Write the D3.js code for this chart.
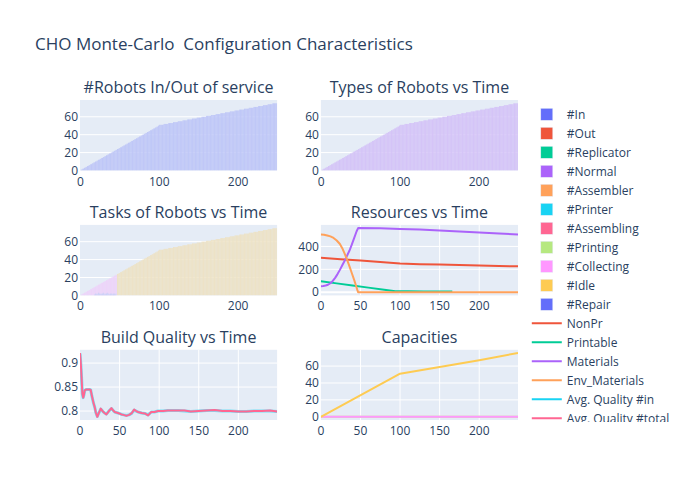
<!DOCTYPE html>
<html><head><meta charset="utf-8">
<script src="https://cdn.jsdelivr.net/npm/d3@7"></script>
<style>body{margin:0;background:#fff}svg{font-family:"Open Sans",verdana,arial,sans-serif}</style>
</head><body>
<script>
// ---------------- DATA ----------------
const chartTitle = "CHO Monte-Carlo  Configuration Characteristics";
const subplotTitles = ["#Robots In/Out of service","Types of Robots vs Time","Tasks of Robots vs Time","Resources vs Time","Build Quality vs Time","Capacities"];

// #In robots per time step t = 0..249
const robotsIn = [0,1,1,2,2,3,3,4,4,5,5,6,6,7,7,8,8,9,9,10,10,11,11,12,12,13,13,14,14,15,15,16,16,17,17,18,18,19,19,20,20,21,21,22,22,23,23,24,24,25,25,26,26,27,27,28,28,29,29,30,30,31,31,32,32,33,33,34,34,35,35,36,36,37,37,38,38,39,39,40,40,41,41,42,42,43,43,44,44,45,45,46,46,47,47,48,48,49,49,50,
51,51,51,51,51,51,52,52,52,52,52,52,53,53,53,53,53,53,54,54,54,54,54,54,55,55,55,55,55,55,56,56,56,56,56,56,57,57,57,57,57,57,58,58,58,58,58,58,59,59,59,59,59,59,60,60,60,60,60,60,61,61,61,61,61,61,62,62,62,62,62,62,63,63,63,63,63,63,64,64,64,64,64,64,65,65,65,65,65,65,66,66,66,66,66,66,67,67,67,67,67,67,68,68,68,68,68,68,69,69,69,69,69,69,70,70,70,70,70,70,71,71,71,71,71,71,72,72,72,72,72,72,73,73,73,73,73,73,74,74,74,74,74,74,75,75,75,75,75,75];
// #Normal robots (same counts as #In in the picture)
const robotsNormal = robotsIn;
// Tasks: #Collecting t=0..46, #Idle t=47..249, #Repair t=18..45
const collectingStart = 0;
const tasksCollecting = [0,1,1,2,2,3,3,4,4,5,5,6,6,7,7,8,8,9,9,10,10,11,11,12,12,13,13,14,14,15,15,16,16,17,17,18,18,19,19,20,20,21,21,22,22,23,23];
const idleStart = 47;
const tasksIdle = [24,24,25,25,26,26,27,27,28,28,29,29,30,30,31,31,32,32,33,33,34,34,35,35,36,36,37,37,38,38,39,39,40,40,41,41,42,42,43,43,44,44,45,45,46,46,47,47,48,48,49,49,50,
51,51,51,51,51,51,52,52,52,52,52,52,53,53,53,53,53,53,54,54,54,54,54,54,55,55,55,55,55,55,56,56,56,56,56,56,57,57,57,57,57,57,58,58,58,58,58,58,59,59,59,59,59,59,60,60,60,60,60,60,61,61,61,61,61,61,62,62,62,62,62,62,63,63,63,63,63,63,64,64,64,64,64,64,65,65,65,65,65,65,66,66,66,66,66,66,67,67,67,67,67,67,68,68,68,68,68,68,69,69,69,69,69,69,70,70,70,70,70,70,71,71,71,71,71,71,72,72,72,72,72,72,73,73,73,73,73,73,74,74,74,74,74,74,75,75,75,75,75,75];
const repairStart = 18;
const tasksRepair = [1,2,2,1,2,3,2,2,1,2,2,3,2,1,2,2,3,2,2,1,2,2,2,1,2,2,1,2];

// Resources [t, value]
const resNonPr = [[0,301],[25,288],[50,276],[75,263],[100,250],[125,245],[150,241],[175,237],[200,233],[225,229],[249,226]];
const resPrintable = [[0,96],[20,77],[40,58],[60,40],[80,21],[94,9],[110,8],[130,7],[150,6],[166,6]];
const resMaterials = [[0,52],[3,54],[6,58],[9,65],[12,78],[15,98],[18,125],[21,158],[24,195],[27,235],[30,275],[33,318],[36,362],[39,415],[42,472],[45,530],[47,560],[75,558],[100,553],[125,547],[150,540],[175,531],[200,522],[225,513],[249,505]];
const resEnvMaterials = [[0,504],[4,502],[8,496],[12,488],[16,474],[20,452],[24,421],[27,385],[30,337],[33,284],[36,228],[39,168],[42,108],[44,65],[46,20],[47,0],[100,0],[150,0],[200,0],[249,0]];

// Build quality [t, value]
const qualityTotal = [[0,0.921],[1,0.9],[2,0.87],[3,0.836],[4,0.828],[5,0.834],[6,0.843],[8,0.845],[10,0.845],[12,0.845],[13.5,0.844],[15,0.832],[17,0.817],[18.6,0.808],[20,0.797],[21.9,0.788],[23.6,0.795],[26.2,0.805],[29,0.799],[31,0.796],[33.3,0.793],[36,0.799],[39.7,0.806],[42,0.801],[43.9,0.798],[48,0.796],[52.3,0.793],[55,0.792],[58.6,0.79],[62,0.792],[65,0.795],[68.4,0.803],[71,0.8],[73.4,0.798],[78,0.796],[81.9,0.795],[86,0.791],[90,0.798],[94,0.798],[98.7,0.8],[105,0.8],[111,0.801],[124,0.801],[132,0.801],[140,0.799],[150,0.8],[160,0.801],[170,0.802],[180,0.8],[190,0.8],[200,0.799],[210,0.799],[220,0.8],[230,0.8],[240,0.801],[249,0.799]];
const qualityIn = [[0,0.92],[1,0.9],[2,0.869],[3,0.835],[4,0.828],[5,0.834],[6,0.843],[8,0.845],[10,0.845],[12,0.845],[13.5,0.844],[15,0.831],[17,0.817],[18.6,0.808],[20,0.797],[21.9,0.789],[23.6,0.795],[26.2,0.804],[29,0.799],[31,0.796],[33.3,0.794],[36,0.799],[39.7,0.805],[42,0.801],[43.9,0.798],[48,0.796],[52.3,0.793],[55,0.792],[58.6,0.791],[62,0.792],[65,0.795],[68.4,0.802],[71,0.8],[73.4,0.798],[78,0.796],[81.9,0.795],[86,0.792],[90,0.798],[94,0.798],[98.7,0.8],[105,0.8],[111,0.801],[124,0.801],[132,0.8],[140,0.799],[150,0.8],[160,0.801],[170,0.801],[180,0.8],[190,0.8],[200,0.799],[210,0.799],[220,0.8],[230,0.8],[240,0.8],[249,0.799]];

// Capacities [t, value]
const capGreen = [[0,0],[249,0]];
const capPink = [[0,0],[249,0]];
const capYellow = [[0,0],[100,51],[150,59],[200,67],[249,75.5]];

// Tick values
const ticksBarX = [0,100,200], ticksBarY = [0,20,40,60];
const ticksLineX = [0,50,100,150,200];
const ticksResY = [0,200,400];
const ticksQualY = [0.8,0.85,0.9];
const ticksCapY = [0,20,40,60];

const legendItems = [
  ["#In","bar","#636efa"],["#Out","bar","#EF553B"],["#Replicator","bar","#00cc96"],["#Normal","bar","#ab63fa"],
  ["#Assembler","bar","#FFA15A"],["#Printer","bar","#19d3f3"],["#Assembling","bar","#FF6692"],["#Printing","bar","#B6E880"],
  ["#Collecting","bar","#FF97FF"],["#Idle","bar","#FECB52"],["#Repair","bar","#636efa"],
  ["NonPr","line","#EF553B"],["Printable","line","#00cc96"],["Materials","line","#ab63fa"],["Env_Materials","line","#FFA15A"],
  ["Avg. Quality #in","line","#19d3f3"],["Avg. Quality #total","line","#FF6692"],
  ["Cap","line","#B6E880"],["Cap","line","#FF97FF"],["Cap","line","#FECB52"]
];

// ---------------- DRAW ----------------
const W = 700, H = 500, BG = "#E5ECF6", TXT = "#2a3f5f";
const svg = d3.select("body").append("svg").attr("width", W).attr("height", H);
svg.append("rect").attr("width", W).attr("height", H).attr("fill", "#fff");

const cols = [[80, 277.1], [320.9, 518]];
const rows = [[100, 170.5], [224.9, 295.4], [349.8, 420]];

function pad(ext) { const r = ext[1] - ext[0]; return [ext[0] - r * 0.05, ext[1] + r * 0.05]; }

function panel(ci, ri, xDom, yDom, xTicks, yTicks, title, xGrid, fmt) {
  const [x0, x1] = cols[ci], [y0, y1] = rows[ri];
  const x = d3.scaleLinear().domain(xDom).range([x0, x1]);
  const y = d3.scaleLinear().domain(yDom).range([y1, y0]);
  const g = svg.append("g");
  g.append("rect").attr("x", x0).attr("y", y0).attr("width", x1 - x0).attr("height", y1 - y0).attr("fill", BG);
  if (xGrid) g.selectAll(null).data(xTicks.filter(t => t !== 0)).join("line")
    .attr("x1", d => x(d)).attr("x2", d => x(d)).attr("y1", y0).attr("y2", y1)
    .attr("stroke", "#fff").attr("stroke-width", 1);
  g.selectAll(null).data(yTicks.filter(t => y(t) > y0 + 0.5 && y(t) < y1 - 0.5)).join("line")
    .attr("x1", x0).attr("x2", x1).attr("y1", d => y(d)).attr("y2", d => y(d))
    .attr("stroke", "#fff").attr("stroke-width", d => d === 0 ? 2 : 1);
  g.selectAll(null).data(xTicks).join("text").attr("x", d => x(d)).attr("y", y1 + 15)
    .attr("text-anchor", "middle").attr("font-size", 12).attr("fill", TXT).text(d => d);
  g.selectAll(null).data(yTicks).join("text").attr("x", x0 - 2).attr("y", d => y(d)).attr("dy", "0.35em")
    .attr("text-anchor", "end").attr("font-size", 12).attr("fill", TXT).text(d => fmt ? fmt(d) : d);
  svg.append("text").attr("x", (x0 + x1) / 2).attr("y", y0 - 7).attr("text-anchor", "middle")
    .attr("font-size", 16).attr("fill", TXT).text(title);
  const clip = "clip" + ci + ri;
  svg.append("clipPath").attr("id", clip).append("rect").attr("x", x0).attr("y", y0).attr("width", x1 - x0).attr("height", y1 - y0);
  const layer = svg.append("g").attr("clip-path", `url(#${clip})`);
  return { x, y, layer };
}

function bars(p, values, start, color, a) {
  const fill = d3.interpolateRgb(BG, color)(a || 0.3);
  p.layer.append("g").selectAll("rect").data(values.map((v, i) => ({ t: start + i, v }))).join("rect")
    .attr("x", d => p.x(d.t - 0.5)).attr("width", d => p.x(d.t + 0.5) - p.x(d.t - 0.5) + 0.15)
    .attr("y", d => p.y(d.v)).attr("height", d => p.y(0) - p.y(d.v)).attr("fill", fill);
}
function line(p, pts, color, w, op) {
  p.layer.append("path").datum(pts).attr("fill", "none").attr("stroke", color).attr("stroke-width", w || 2)
    .attr("stroke-opacity", op == null ? 1 : op).attr("stroke-linejoin", "round")
    .attr("d", d3.line().x(d => p.x(d[0])).y(d => p.y(d[1])));
}

const nT = robotsIn.length;
const barX = [-0.5, nT - 0.5];
const barY = [0, d3.max(robotsIn) * 1.05];

const p1 = panel(0, 0, barX, barY, ticksBarX, ticksBarY, subplotTitles[0], false);
bars(p1, robotsIn, 0, "#636efa");

const p2 = panel(1, 0, barX, barY, ticksBarX, ticksBarY, subplotTitles[1], false);
bars(p2, robotsNormal, 0, "#ab63fa");

const tasksMax = d3.max([...tasksCollecting, ...tasksIdle, ...tasksRepair]);
const p3 = panel(0, 1, barX, [0, tasksMax * 1.05], ticksBarX, ticksBarY, subplotTitles[2], false);
bars(p3, tasksCollecting, collectingStart, "#FF97FF");
bars(p3, tasksIdle, idleStart, "#FECB52");
bars(p3, tasksRepair, repairStart, "#b9c0f7", 0.6);

const resAll = [...resNonPr, ...resPrintable, ...resMaterials, ...resEnvMaterials];
const p4 = panel(1, 1, [0, 249], pad(d3.extent(resAll, d => d[1])), ticksLineX, ticksResY, subplotTitles[3], true);
line(p4, resNonPr, "#EF553B");
line(p4, resPrintable, "#00cc96");
line(p4, resMaterials, "#ab63fa");
line(p4, resEnvMaterials, "#FFA15A");

const qAll = [...qualityIn, ...qualityTotal];
const p5 = panel(0, 2, [0, 249], pad(d3.extent(qAll, d => d[1])), ticksLineX, ticksQualY, subplotTitles[4], true, d => d3.format("")(d));
line(p5, qualityIn, "#19d3f3", 3, 0.55);
line(p5, qualityTotal, "#FF6692", 2);

const cAll = [...capGreen, ...capPink, ...capYellow];
const p6 = panel(1, 2, [0, 249], pad(d3.extent(cAll, d => d[1])), ticksLineX, ticksCapY, subplotTitles[5], true);
line(p6, capGreen, "#B6E880");
line(p6, capPink, "#FF97FF");
line(p6, capYellow, "#FECB52");

// title (keeps the double space)
svg.append("text").attr("x", 35).attr("y", 50).attr("font-size", 17).attr("fill", TXT)
  .attr("xml:space", "preserve").style("white-space", "pre").text(chartTitle);

// legend
const lx = 526.8;
svg.append("clipPath").attr("id", "legclip").append("rect").attr("x", lx).attr("y", 100).attr("width", 173).attr("height", 322);
const leg = svg.append("g").attr("clip-path", "url(#legclip)");
legendItems.forEach((it, i) => {
  const cy = 114.3 + i * 19;
  const g = leg.append("g");
  if (it[1] === "bar") {
    g.append("rect").attr("x", lx + 14).attr("y", cy - 6).attr("width", 12).attr("height", 12)
      .attr("fill", it[2]).attr("stroke", BG).attr("stroke-width", 0.5);
  } else {
    g.append("line").attr("x1", lx + 5).attr("x2", lx + 35).attr("y1", cy).attr("y2", cy)
      .attr("stroke", it[2]).attr("stroke-width", 2);
  }
  g.append("text").attr("x", lx + 40).attr("y", cy).attr("dy", "0.35em").attr("font-size", 12)
    .attr("fill", TXT).text(it[0]);
});
</script>
</body></html>
